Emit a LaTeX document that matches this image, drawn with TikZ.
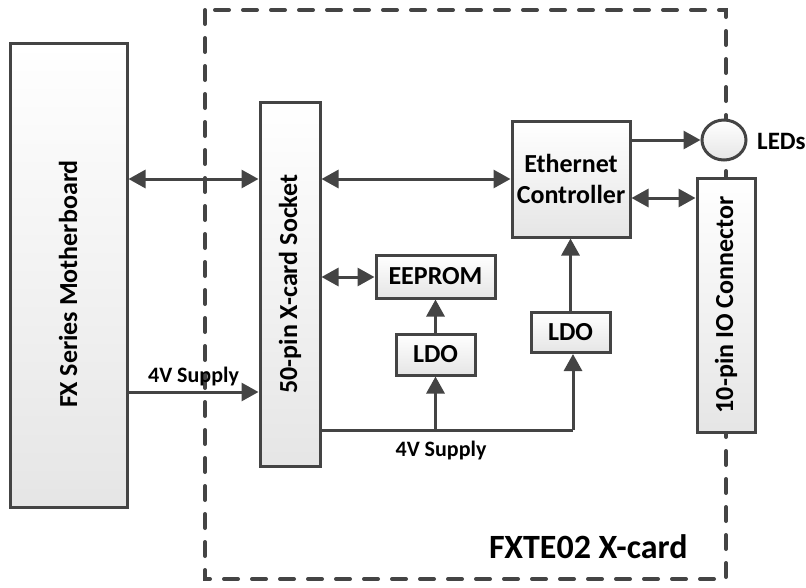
\documentclass[tikz,border=0pt]{standalone}
\usepackage{fontspec}
\setmainfont{Carlito}
\usetikzlibrary{arrows.meta,shadings,shapes.geometric}
\definecolor{ln}{HTML}{444444}
\begin{document}
\begin{tikzpicture}[x=1pt,y=-1pt,
  blk/.style={draw=ln,line width=3pt,top color=white,bottom color=black!10,inner sep=0pt,font=\bfseries\fontsize{26}{31}\selectfont,align=center},
  vtxt/.style={rotate=90,font=\bfseries\fontsize{26}{31}\selectfont},
  conn/.style={draw=ln,line width=3pt,-{Triangle[length=17pt,width=18pt]}},
  bconn/.style={draw=ln,line width=3pt,{Triangle[length=17pt,width=18pt]}-{Triangle[length=17pt,width=18pt]}},
  lbl/.style={font=\bfseries\fontsize{22}{26}\selectfont}]
\useasboundingbox (0,0) rectangle (806,587);
% dashed card boundary
\draw[ln,line width=4pt,dash pattern=on 14pt off 14pt,line cap=round] (205,10) rectangle (726,579);
% blocks
\node[blk,minimum width=117pt,minimum height=464pt] (mb) at (68.5,275) {};
\node[vtxt] at (68,284) {FX Series Motherboard};
\node[blk,minimum width=60pt,minimum height=364pt] (sock) at (290,284) {};
\node[vtxt] at (sock.center) {50-pin X-card Socket};
\node[blk,minimum width=118pt,minimum height=116pt] (eth) at (571,179) {Ethernet\\Controller};
\node[blk,minimum width=119pt,minimum height=43pt] (eep) at (435.5,276.5) {EEPROM};
\node[blk,minimum width=79pt,minimum height=41pt] (ldoa) at (435.5,354.5) {LDO};
\node[blk,minimum width=79pt,minimum height=40pt] (ldob) at (570.5,332.5) {LDO};
\node[blk,minimum width=58pt,minimum height=254pt] (io) at (726,305) {};
\node[vtxt] at (io.center) {10-pin IO Connector};
\node[draw=ln,line width=3pt,top color=white,bottom color=black!10,ellipse,minimum width=44pt,minimum height=40pt,inner sep=0pt] (led) at (724,140) {};
\node[font=\bfseries\fontsize{25}{30}\selectfont,anchor=west,inner sep=0pt] (ledl) at (757,141) {LEDs};
\node[font=\bfseries\fontsize{34}{40}\selectfont,anchor=west,inner sep=0pt] (title) at (489,547) {FXTE02 X-card};
% connectors
\draw[bconn] (mb.east |- 0,179) -- (sock.west |- 0,179);
\draw[bconn] (sock.east |- 0,179) -- (eth.west |- 0,179);
\draw[bconn] (sock.east |- 0,277) -- (eep.west |- 0,277);
\draw[conn] (mb.east |- 0,392) -- node[lbl,above=1pt] {4V Supply} (sock.west |- 0,392);
\coordinate (sa) at (435.5,430);
\coordinate (sb) at (573,430);
\draw[draw=ln,line width=3pt] (sock.east |- 0,430) -- (sb);
\node[lbl] at (441,451) {4V Supply};
\draw[conn] (sa) -- (ldoa.south);
\draw[conn] (sb) -- (sb |- ldob.south);
\draw[conn] (ldoa.north) -- (eep.south);
\draw[conn] (ldob.north) -- (ldob.north |- eth.south);
\draw[conn] (eth.east |- 0,140) -- (led.west);
\draw[bconn] (eth.east |- 0,198) -- (io.west |- 0,198);
\end{tikzpicture}
\end{document}
